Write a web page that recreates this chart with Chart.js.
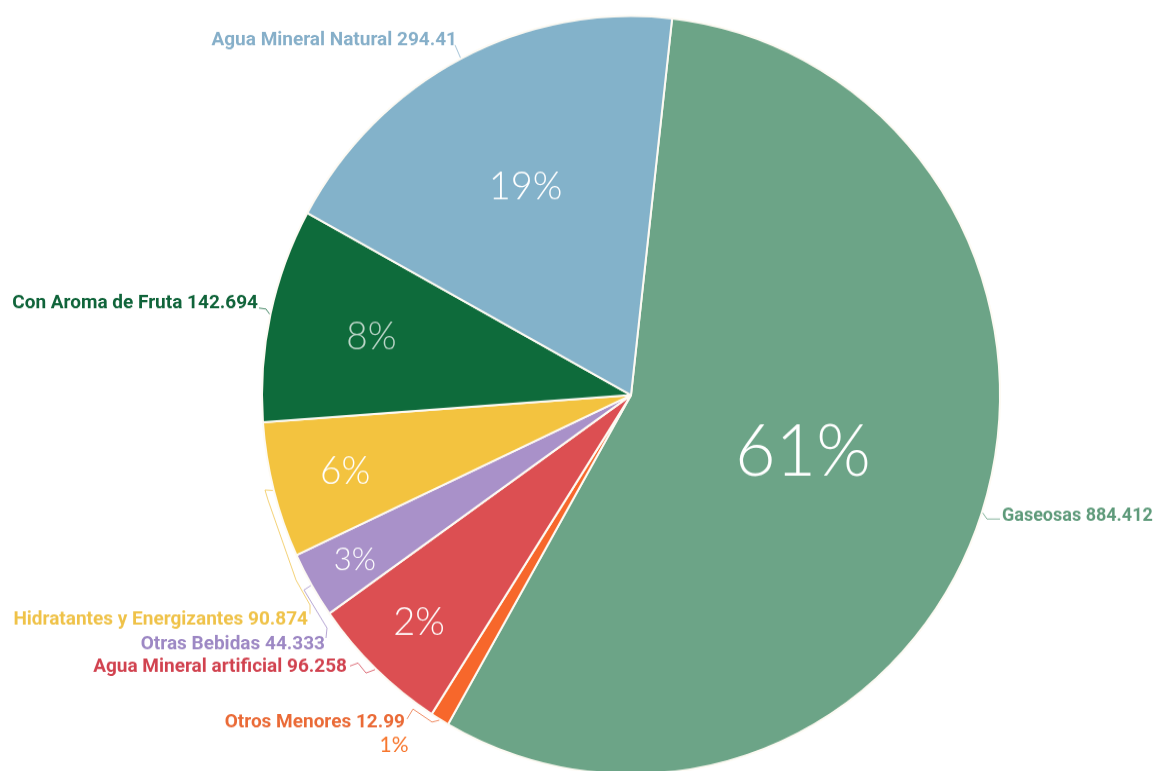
<!DOCTYPE html>
<html>
<head>
<meta charset="utf-8">
<script src="https://cdn.jsdelivr.net/npm/chart.js@4.4.1/dist/chart.umd.min.js"></script>
<style>
  html, body { margin: 0; padding: 0; background: #ffffff; }
  #wrap { width: 1158px; height: 771px; overflow: hidden; position: relative; }
  #stage { transform-origin: 0 0; transform: scaleY(1.0273); }
</style>
</head>
<body>
<div id="wrap"><div id="stage"><canvas id="c" width="1158" height="760" style="width:1158px;height:760px"></canvas></div></div>
<script>
// Market volume by beverage category (clockwise from Gaseosas)
const categories = ['Gaseosas', 'Otros Menores', 'Agua Mineral artificial', 'Otras Bebidas',
  'Hidratantes y Energizantes', 'Con Aroma de Fruta', 'Agua Mineral Natural'];
const values = [884.412, 12.99, 96.258, 44.333, 90.874, 142.694, 294.41];
const percentLabels = ['61%', '1%', '2%', '3%', '6%', '8%', '19%'];

const sliceColors = ['#6ca487', '#f7672b', '#dc4f52', '#a991c9', '#f3c33f', '#0e6b3b', '#83b2ca'];
const labelColors = ['#5e9a7a', '#ea6a36', '#d1424f', '#9d88c4', '#efc248', '#10643a', '#86afc9'];

// vertical stretch applied to the canvas by CSS
const SY = 1.0273;

// callout layout (page pixels): text anchor, alignment, font size, leader polyline from text to slice
const callouts = [
  { x: 1002, y: 516, align: 'left',  size: 18, path: [[1000, 519], [987, 519]] },
  { x: 405,  y: 722, align: 'right', size: 19, path: [[407, 719], [413, 709], [432, 722]] },
  { x: 347,  y: 667, align: 'right', size: 19, path: [[350, 666], [358, 663], [366, 673]] },
  { x: 325,  y: 644, align: 'right', size: 19, path: [[326, 638], [327, 628], [304, 590]] },
  { x: 308,  y: 620, align: 'right', size: 19, path: [[310, 614], [310, 605], [296, 580], [268, 500], [265, 490]] },
  { x: 258,  y: 303, align: 'right', size: 19, path: [[259, 308], [266, 309]] },
  { x: 457,  y: 40,  align: 'right', size: 19, path: [[455, 45]] }
];

// percentage text: fraction of the radius along each slice's mid-angle, font size, colour
const percentStyle = [
  { r: 0.49, size: 70, weight: 300, color: '#ffffff' },
  { r: null, size: 21, weight: 400, color: '#f7772e', x: 394, y: 745 },
  { r: 0.83, size: 38, weight: 300, color: '#ffffff' },
  { r: 0.865, size: 31, weight: 300, color: '#ffffff' },
  { r: 0.80, size: 37, weight: 300, color: '#ffffff' },
  { r: 0.72, size: 37, weight: 300, color: 'rgba(255,255,255,0.72)' },
  { r: 0.62, size: 38, weight: 300, color: '#ffffff' }
];

const calloutPlugin = {
  id: 'callouts',
  afterDatasetsDraw(chart) {
    const ctx = chart.ctx;
    const arcs = chart.getDatasetMeta(0).data;
    ctx.save();
    arcs.forEach((arc, i) => {
      const p = arc.getProps(['x', 'y', 'startAngle', 'endAngle', 'outerRadius'], true);
      const mid = (p.startAngle + p.endAngle) / 2;
      const c = callouts[i];

      // leader line
      ctx.beginPath();
      ctx.strokeStyle = labelColors[i];
      ctx.globalAlpha = 0.75;
      ctx.lineWidth = 1;
      c.path.forEach((pt, k) => {
        const px = pt[0], py = pt[1] / SY;
        if (k === 0) ctx.moveTo(px, py); else ctx.lineTo(px, py);
      });
      ctx.lineTo(p.x + Math.cos(mid) * (p.outerRadius + 1), p.y + Math.sin(mid) * (p.outerRadius + 1));
      ctx.stroke();
      ctx.globalAlpha = 1;

      // category + value text
      ctx.font = 'bold ' + c.size + 'px Roboto, "Noto Sans", sans-serif';
      ctx.fillStyle = labelColors[i];
      ctx.textAlign = c.align;
      ctx.textBaseline = 'middle';
      ctx.fillText(categories[i] + ' ' + String(values[i]), c.x, c.y / SY);

      // percentage text
      const s = percentStyle[i];
      let tx, ty;
      if (s.r === null) { tx = s.x; ty = s.y / SY; }
      else {
        tx = p.x + Math.cos(mid) * p.outerRadius * s.r;
        ty = p.y + Math.sin(mid) * p.outerRadius * s.r;
      }
      ctx.font = s.weight + ' ' + s.size + 'px Lato, "Open Sans", sans-serif';
      ctx.fillStyle = s.color;
      ctx.textAlign = 'center';
      ctx.textBaseline = 'middle';
      ctx.fillText(percentLabels[i], tx, ty);
    });
    ctx.restore();
  }
};

new Chart(document.getElementById('c'), {
  type: 'pie',
  data: {
    labels: categories,
    datasets: [{
      data: values,
      backgroundColor: sliceColors,
      borderColor: '#fdfaf3',
      borderWidth: 2
    }]
  },
  options: {
    responsive: false,
    animation: false,
    events: [],
    rotation: 6.4,
    radius: 369,
    layout: { padding: { left: 262, right: 158, top: 15.6, bottom: 6.4 } },
    plugins: { legend: { display: false }, tooltip: { enabled: false } }
  },
  plugins: [calloutPlugin]
});
</script>
</body>
</html>
